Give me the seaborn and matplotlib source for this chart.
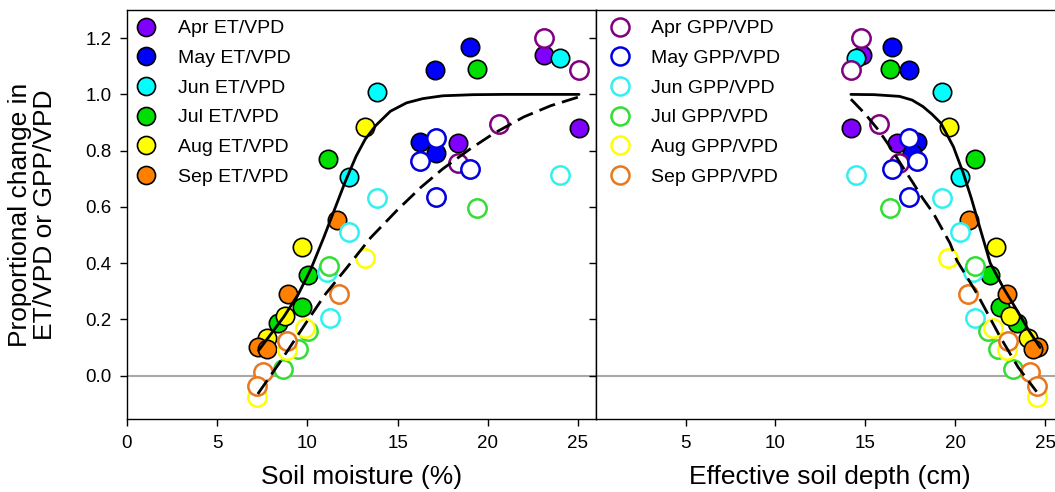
import matplotlib
matplotlib.use("Agg")
import matplotlib.pyplot as plt
from matplotlib.lines import Line2D
import seaborn as sns

# ---------------- data ----------------
months = ["Apr", "May", "Jun", "Jul", "Aug", "Sep"]

apr_et_y = [1.14, 0.88, 0.826]
apr_et_sm = [23.1, 25.06, 18.33]
apr_et_depth = [14.8, 14.2, 16.75]
apr_gpp_y = [1.20, 1.085, 0.894, 0.755]
apr_gpp_sm = [23.1, 25.06, 20.64, 18.33]
apr_gpp_depth = [14.76, 14.2, 15.78, 16.9]

may_et_y = [1.17, 1.085, 0.832, 0.793]
may_et_sm = [19.0, 17.07, 16.24, 17.11]
may_et_depth = [16.47, 17.43, 17.86, 17.6]
may_gpp_y = [0.846, 0.764, 0.735, 0.637]
may_gpp_sm = [17.11, 16.24, 19.01, 17.11]
may_gpp_depth = [17.45, 17.86, 16.47, 17.43]

jun_et_y = [1.13, 1.01, 0.708]
jun_et_sm = [24.0, 13.84, 12.31]
jun_et_depth = [14.48, 19.25, 20.27]
jun_gpp_y = [0.714, 0.633, 0.51, 0.37, 0.205]
jun_gpp_sm = [24.0, 13.84, 12.31, 11.1, 11.25]
jun_gpp_depth = [14.48, 19.25, 20.27, 21.0, 21.1]

jul_et_y = [1.09, 0.77, 0.358, 0.245, 0.186]
jul_et_sm = [19.4, 11.16, 10.05, 9.68, 8.39]
jul_et_depth = [16.37, 21.1, 21.94, 22.49, 23.42]
jul_gpp_y = [0.595, 0.39, 0.16, 0.095, 0.024]
jul_gpp_sm = [19.38, 11.22, 10.05, 9.5, 8.67]
jul_gpp_depth = [16.37, 21.1, 21.84, 22.4, 23.23]

aug_et_y = [0.885, 0.459, 0.213, 0.135]
aug_et_sm = [13.19, 9.72, 8.76, 7.74]
aug_et_depth = [19.67, 22.27, 23.05, 24.07]
aug_gpp_y = [0.417, 0.169, 0.09, -0.075]
aug_gpp_sm = [13.19, 9.87, 8.85, 7.2]
aug_gpp_depth = [19.62, 22.1, 22.86, 24.53]

sep_et_y = [0.554, 0.29, 0.103, 0.094]
sep_et_sm = [11.62, 8.94, 7.28, 7.74]
sep_et_depth = [20.79, 22.86, 24.62, 24.35]
sep_gpp_y = [0.29, 0.125, 0.012, -0.036]
sep_gpp_sm = [11.74, 8.85, 7.56, 7.19]
sep_gpp_depth = [20.73, 22.95, 24.16, 24.53]

# fitted curves
et_fit_sm = [7.3, 8.0, 8.7, 9.5, 10.2, 10.9, 11.5, 12.1, 12.7, 13.2, 13.8, 14.6, 15.5, 16.4, 17.5, 19.2, 21.0, 25.06]
et_fit_y = [0.09, 0.15, 0.21, 0.29, 0.38, 0.49, 0.59, 0.69, 0.78, 0.84, 0.89, 0.94, 0.97, 0.985, 0.995, 0.999, 1.0, 1.0]
gpp_fit_sm = [7.25, 8.5, 10.0, 11.0, 12.2, 13.5, 15.0, 16.3, 17.5, 19.0, 20.3, 22.0, 23.5, 25.1]
gpp_fit_y = [-0.065, 0.05, 0.195, 0.29, 0.385, 0.49, 0.59, 0.67, 0.735, 0.805, 0.86, 0.92, 0.96, 0.992]

et_fit_depth = [14.2, 15.5, 16.9, 17.6, 18.2, 18.7, 19.2, 19.9, 20.45, 20.9, 21.4, 21.95, 22.7, 23.42, 24.1, 24.72]
et_fit_depth_y = [1.0, 0.999, 0.993, 0.98, 0.957, 0.93, 0.898, 0.814, 0.72, 0.63, 0.52, 0.40, 0.31, 0.234, 0.16, 0.10]
gpp_fit_depth = [14.2, 15.0, 15.72, 16.37, 17.0, 17.67, 18.2, 18.78, 19.71, 20.08, 21.2, 22.49, 23.5, 24.53]
gpp_fit_depth_y = [0.983, 0.93, 0.874, 0.814, 0.75, 0.684, 0.63, 0.578, 0.471, 0.411, 0.293, 0.139, 0.03, -0.057]

xticks_left = [0, 5, 10, 15, 20, 25]
xticks_right = [5, 10, 15, 20, 25]
yticks = [0.0, 0.2, 0.4, 0.6, 0.8, 1.0, 1.2]

# ---------------- style ----------------
sns.set_style("ticks")
plt.rcParams['font.family'] = ['Liberation Sans', 'DejaVu Sans']
plt.rcParams['text.color'] = 'black'
plt.rcParams['axes.labelcolor'] = 'black'
plt.rcParams['xtick.color'] = 'black'
plt.rcParams['ytick.color'] = 'black'

et_colors = ["#8000FF", "#0000FF", "#00FFFF", "#00E000", "#FFFF00", "#FF8000"]
gpp_colors = ["#800080", "#0000E0", "#33F0F0", "#33DD33", "#FFFF00", "#E8771E"]

et_sm = [apr_et_sm, may_et_sm, jun_et_sm, jul_et_sm, aug_et_sm, sep_et_sm]
et_dp = [apr_et_depth, may_et_depth, jun_et_depth, jul_et_depth, aug_et_depth, sep_et_depth]
et_y = [apr_et_y, may_et_y, jun_et_y, jul_et_y, aug_et_y, sep_et_y]
gpp_sm = [apr_gpp_sm, may_gpp_sm, jun_gpp_sm, jul_gpp_sm, aug_gpp_sm, sep_gpp_sm]
gpp_dp = [apr_gpp_depth, may_gpp_depth, jun_gpp_depth, jul_gpp_depth, aug_gpp_depth, sep_gpp_depth]
gpp_y = [apr_gpp_y, may_gpp_y, jun_gpp_y, jul_gpp_y, aug_gpp_y, sep_gpp_y]

W, H = 1055, 492
fig = plt.figure(figsize=(W / 100, H / 100), dpi=100)
bottom = 1 - 419.3 / H
height = (419.3 - 10) / H
axL = fig.add_axes([127 / W, bottom, 469 / W, height])
axR = fig.add_axes([595.6 / W, bottom, 26 * 17.98 / W, height])

S = 175
for ax, ets, gpps, efx, efy, gfx, gfy in [
    (axL, et_sm, gpp_sm, et_fit_sm, et_fit_y, gpp_fit_sm, gpp_fit_y),
    (axR, et_dp, gpp_dp, et_fit_depth, et_fit_depth_y, gpp_fit_depth, gpp_fit_depth_y),
]:
    ax.axhline(0, color="#A8A8A8", lw=1.5, zorder=1)
    for i in range(6):
        sns.scatterplot(x=ets[i], y=et_y[i], ax=ax, s=S, color=et_colors[i],
                        edgecolor="black", linewidth=1.2, zorder=3, legend=False)
    for i in range(6):
        sns.scatterplot(x=gpps[i], y=gpp_y[i], ax=ax, s=S, color="white",
                        edgecolor=gpp_colors[i], linewidth=1.8, zorder=3, legend=False)
    sns.lineplot(x=efx, y=efy, ax=ax, sort=False, color="black", lw=2, zorder=4)
    sns.lineplot(x=gfx, y=gfy, ax=ax, sort=False, color="black", lw=2,
                 linestyle=(0, (6, 2.6)), zorder=4)
    ax.set_xlim(0, 26)
    ax.set_ylim(-0.155, 1.30)
    for sp in ax.spines.values():
        sp.set_visible(True)
        sp.set_color("black")
        sp.set_linewidth(1.0)
    ax.tick_params(direction="out", length=5, width=1, labelsize=13.5, colors="black", pad=6)

axL.set_xticks(xticks_left)
axL.set_xticklabels([str(v) for v in xticks_left])
axL.set_yticks(yticks)
axL.set_yticklabels([f"{v:.1f}" for v in yticks])
axR.set_xticks(xticks_right)
axR.set_xticklabels([str(v) for v in xticks_right])
axR.set_yticks(yticks)
axR.set_yticklabels([])
axR.set_ylabel("")

axL.set_xlabel("Soil moisture (%)", fontsize=19, labelpad=10)
axR.set_xlabel("Effective soil depth (cm)", fontsize=19, labelpad=10)
axL.set_ylabel("Proportional change in\nET/VPD or GPP/VPD", fontsize=19,
               linespacing=1.05)
axL.yaxis.set_label_coords(-0.15, 0.5)

et_handles = [Line2D([], [], marker="o", ls="", markersize=13, markerfacecolor=c,
                     markeredgecolor="black", markeredgewidth=1.2) for c in et_colors]
gpp_handles = [Line2D([], [], marker="o", ls="", markersize=13, markerfacecolor="white",
                      markeredgecolor=c, markeredgewidth=1.8) for c in gpp_colors]
axL.legend(et_handles, [f"{m} ET/VPD" for m in months], loc="upper left",
           bbox_to_anchor=(0.0, 1.0), frameon=False, fontsize=14, labelspacing=0.62,
           handlelength=1.0, handletextpad=1.1, borderaxespad=0.1)
axR.legend(gpp_handles, [f"{m} GPP/VPD" for m in months], loc="upper left",
           bbox_to_anchor=(0.011, 1.0), frameon=False, fontsize=14, labelspacing=0.62,
           handlelength=1.0, handletextpad=1.1, borderaxespad=0.1)

fig.savefig("out.png", dpi=100)
